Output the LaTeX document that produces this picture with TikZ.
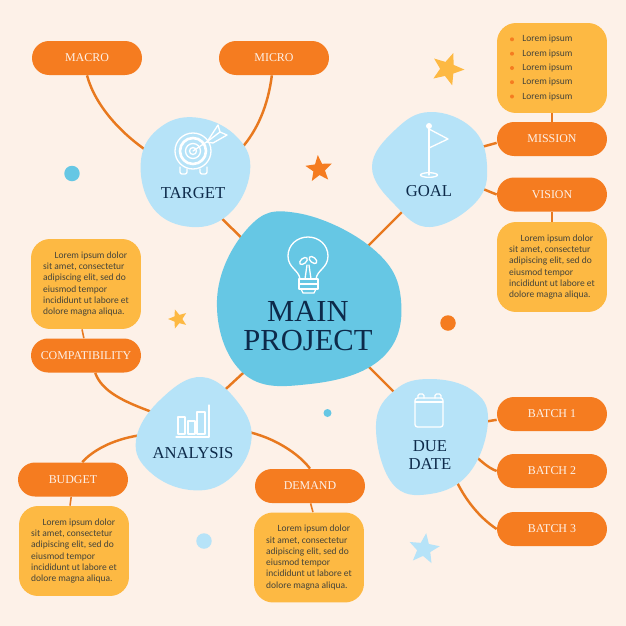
\documentclass[tikz,border=0pt]{standalone}
\usepackage{fontspec}
\setmainfont{Liberation Serif}
\newfontfamily\bodyfont{Carlito}
\usetikzlibrary{backgrounds,shapes.geometric}
\definecolor{paper}{HTML}{FDF1E8}
\definecolor{pillorange}{HTML}{F57C20}
\definecolor{linkorange}{HTML}{E8791F}
\definecolor{boxyellow}{HTML}{FDB943}
\definecolor{hubblue}{HTML}{66C7E4}
\definecolor{lightblue}{HTML}{B6E3F8}
\definecolor{inkblue}{HTML}{0D2A4A}
\definecolor{bodygray}{HTML}{45443A}
\begin{document}
\begin{tikzpicture}[
    x=0.02cm, y=-0.02cm,
    pill/.style={fill=pillorange, rounded corners=0.34cm, minimum width=2.2cm, minimum height=0.68cm, inner sep=0pt, text=paper, font=\fontsize{6.8}{8}\selectfont},
    textbox/.style={fill=boxyellow, rounded corners=0.38cm, minimum width=2.2cm, minimum height=1.8cm, inner sep=0pt, text=bodygray, align=left, font=\bodyfont\fontsize{5.4}{6.38}\selectfont},
    bloblabel/.style={text=inkblue, align=center, inner sep=0pt, font=\fontsize{9.5}{10.3}\selectfont},
    icon/.style={draw=white, line width=0.75pt, line join=round, line cap=round},
    link/.style={draw=linkorange, line width=1.4pt},
    stem/.style={draw=linkorange, line width=0.9pt},
    dot/.style={circle, inner sep=0pt, minimum size=#1},
    deco/.style={star, star points=5, star point ratio=2.3, inner sep=0pt, minimum size=#1}
]
\useasboundingbox (0,0) rectangle (626,626);

% blobs
\fill[hubblue] plot[smooth cycle, tension=0.7] coordinates {(297,213) (372,248) (401,300) (382,358) (310,384) (243,373) (217,300) (248,228)};
\fill[lightblue] plot[smooth cycle, tension=0.7] coordinates {(200,118) (238,138) (250,172) (230,213) (192,227) (153,208) (141,160) (162,126)};
\fill[lightblue] plot[smooth cycle, tension=0.7] coordinates {(430,112) (472,128) (487,165) (476,202) (430,227) (395,205) (372,167) (395,130)};
\fill[lightblue] plot[smooth cycle, tension=0.7] coordinates {(202,377) (240,405) (251,443) (228,480) (190,490) (150,472) (136,440) (160,400)};
\fill[lightblue] plot[smooth cycle, tension=0.7] coordinates {(430,379) (472,390) (488,420) (470,472) (430,494) (392,483) (376,425) (395,390)};

% free ends inside the blobs
\coordinate (maint) at (252,248);
\coordinate (maing) at (358,256);
\coordinate (maina) at (255,362);
\coordinate (maind) at (360,358);
\coordinate (targetm) at (212,209);
\coordinate (targetl) at (150,153);
\coordinate (targetr) at (240,150);
\coordinate (goalm) at (407,207);
\coordinate (goalu) at (478,148);
\coordinate (goald) at (478,187);
\coordinate (analysism) at (215,399);
\coordinate (analysisl) at (152,412);
\coordinate (analysisb) at (142,435);
\coordinate (analysisd) at (244,431);
\coordinate (duem) at (400,398);
\coordinate (dueo) at (483,422);
\coordinate (duet) at (473,454);
\coordinate (duer) at (455,478);

% labels of the blobs
\node[bloblabel, font=\fontsize{17.4}{16.5}\selectfont] (main) at (308,326) {MAIN\\PROJECT};
\node[bloblabel] (target) at (193,193) {TARGET};
\node[bloblabel] (goal) at (429,191) {GOAL};
\node[bloblabel] (analysis) at (193,453) {ANALYSIS};
\node[bloblabel] (duedate) at (430,455) {DUE\\DATE};

% pills
\node[pill] (macro) at (87,58) {MACRO};
\node[pill] (micro) at (274,58) {MICRO};
\node[pill] (mission) at (552,139) {MISSION};
\node[pill] (vision) at (552,194.5) {VISION};
\node[pill] (compat) at (86,355.5) {COMPATIBILITY};
\node[pill] (budget) at (73,479.5) {BUDGET};
\node[pill] (demand) at (310,486) {DEMAND};
\node[pill] (batcha) at (552,414) {BATCH 1};
\node[pill] (batchb) at (552,471) {BATCH 2};
\node[pill] (batchc) at (552,529) {BATCH 3};

% text boxes
\node[textbox] (missionbox) at (552,68) {};
\foreach \y [count=\i] in {39.3,53.7,68,82.2,96.5}{
  \node[dot=0.08cm, fill=pillorange] (bullet\i) at (512,\y) {};
  \node[text=bodygray, inner sep=0pt, anchor=west, font=\bodyfont\fontsize{5.4}{6.38}\selectfont] (item\i) at (522,\y) {Lorem ipsum};
}
\node[textbox] (visionbox) at (552,267) {\hspace{1.2em}Lorem ipsum dolor\\sit amet, consectetur\\adipiscing elit, sed do\\eiusmod tempor\\incididunt ut labore et\\dolore magna aliqua.};
\node[textbox] (compatbox) at (86,284) {\hspace{1.2em}Lorem ipsum dolor\\sit amet, consectetur\\adipiscing elit, sed do\\eiusmod tempor\\incididunt ut labore et\\dolore magna aliqua.};
\node[textbox] (budgetbox) at (74,551) {\hspace{1.2em}Lorem ipsum dolor\\sit amet, consectetur\\adipiscing elit, sed do\\eiusmod tempor\\incididunt ut labore et\\dolore magna aliqua.};
\node[textbox] (demandbox) at (309,557.5) {\hspace{1.2em}Lorem ipsum dolor\\sit amet, consectetur\\adipiscing elit, sed do\\eiusmod tempor\\incididunt ut labore et\\dolore magna aliqua.};

% dots and stars
\node[dot=0.31cm, fill=hubblue] (dota) at (72,173.5) {};
\node[dot=0.31cm, fill=lightblue] (dotb) at (204,541) {};
\node[dot=0.31cm, fill=pillorange] (dotc) at (448,323) {};
\node[dot=0.16cm, fill=hubblue] (dotd) at (327.5,413) {};
\node[deco=0.68cm, fill=boxyellow, rotate=-20] (stara) at (447.5,69) {};
\node[deco=0.56cm, fill=pillorange, rotate=5] (starb) at (319,169) {};
\node[deco=0.4cm, fill=boxyellow, rotate=18] (starc) at (178,319) {};
\node[deco=0.64cm, fill=lightblue, rotate=-8] (stard) at (424,549) {};

% bulb
\draw[icon] (300,279) .. controls (299,270) and (288,268) .. (288,256) .. controls (288,245) and (297,237) .. (308,237) .. controls (319,237) and (328,245) .. (328,256) .. controls (328,268) and (317,270) .. (316,279);
\draw[icon] (299,279) rectangle (318,284);
\draw[icon] (299,284) rectangle (318,289);
\draw[icon] (301,289) -- (303,293) -- (314,293) -- (316,289);
\draw[icon] (305,279) -- (307,265);
\draw[icon] (311,279) -- (309,265);
\draw[icon, rotate around={40:(303.5,261)}] (303.5,261) ellipse (4.5 and 2.6);
\draw[icon, rotate around={-40:(313,260)}] (313,260) ellipse (4.5 and 2.6);
% target
\draw[icon] (193,151) circle (18);
\draw[icon, line width=1.5pt] (193,151) circle (13);
\draw[icon] (193,151) circle (7.5);
\draw[icon] (193,151) circle (3.5);
\draw[icon] (193,151) -- (208,141);
\draw[icon, rounded corners=0.04cm] (180,167) -- (180,174) -- (187,174) -- (187,169);
\draw[icon, rounded corners=0.04cm] (200,169) -- (200,174) -- (207,174) -- (207,167);
\draw[icon] (207,142) -- (218,125) -- (220,132) -- (227,135) -- (213,143) -- cycle;
\draw[icon] (208,141) -- (220,132);
% flag
\fill[white] (429,126) circle (3);
\draw[icon] (429,126) -- (429,175);
\draw[icon] (429,129) -- (448,139) -- (429,148);
\draw[icon] (429,175) ellipse (8.5 and 2.3);
% bars
\draw[icon] (178,434) -- (178,417) -- (185,417) -- (185,434) -- cycle;
\draw[icon] (188,434) -- (188,421) -- (195,421) -- (195,434) -- cycle;
\draw[icon] (197,434) -- (197,412) -- (205,412) -- (205,434) -- cycle;
\draw[icon] (176,437) -- (209,437) -- (209,405);
% calendar
\draw[icon, rounded corners=0.05cm] (415,398) rectangle (443,427);
\draw[icon] (415,402) -- (443,402);
\draw[icon, rounded corners=0.03cm] (418,398) -- (418,394) -- (424,394) -- (424,398);
\draw[icon, rounded corners=0.03cm] (435,398) -- (435,394) -- (441,394) -- (441,398);

% connectors under everything
\begin{pgfonlayer}{background}
\fill[paper] (0,0) rectangle (626,626);
\draw[link] (maint) -- (targetm);
\draw[link] (maing) -- (goalm);
\draw[link] (maina) -- (analysism);
\draw[link] (maind) -- (duem);
\draw[link] (macro.south) .. controls (95,105) and (120,133) .. (targetl);
\draw[link] (micro.263) .. controls (268,105) and (258,130) .. (targetr);
\draw[link] (mission.184) -- (goalu);
\draw[link] (vision.west) -- (goald);
\draw[stem] (missionbox.south) -- (mission.north);
\draw[stem] (vision.south) -- (visionbox.north);
\draw[stem] (compatbox.265) -- (compat.97);
\draw[link] (compat.298) .. controls (102,392) and (125,402) .. (analysisl);
\draw[link] (budget.62) .. controls (95,448) and (118,438) .. (analysisb);
\draw[stem] (budget.264) -- (budgetbox.95);
\draw[link] (demand.north) .. controls (300,455) and (275,437) .. (analysisd);
\draw[stem] (demand.272) -- (demandbox.85);
\draw[link] (batcha.186) -- (dueo);
\draw[link] (batchb.west) .. controls (488,468) and (480,460) .. (duet);
\draw[link] (batchc.west) .. controls (480,518) and (465,500) .. (duer);
\end{pgfonlayer}

\end{tikzpicture}
\end{document}
